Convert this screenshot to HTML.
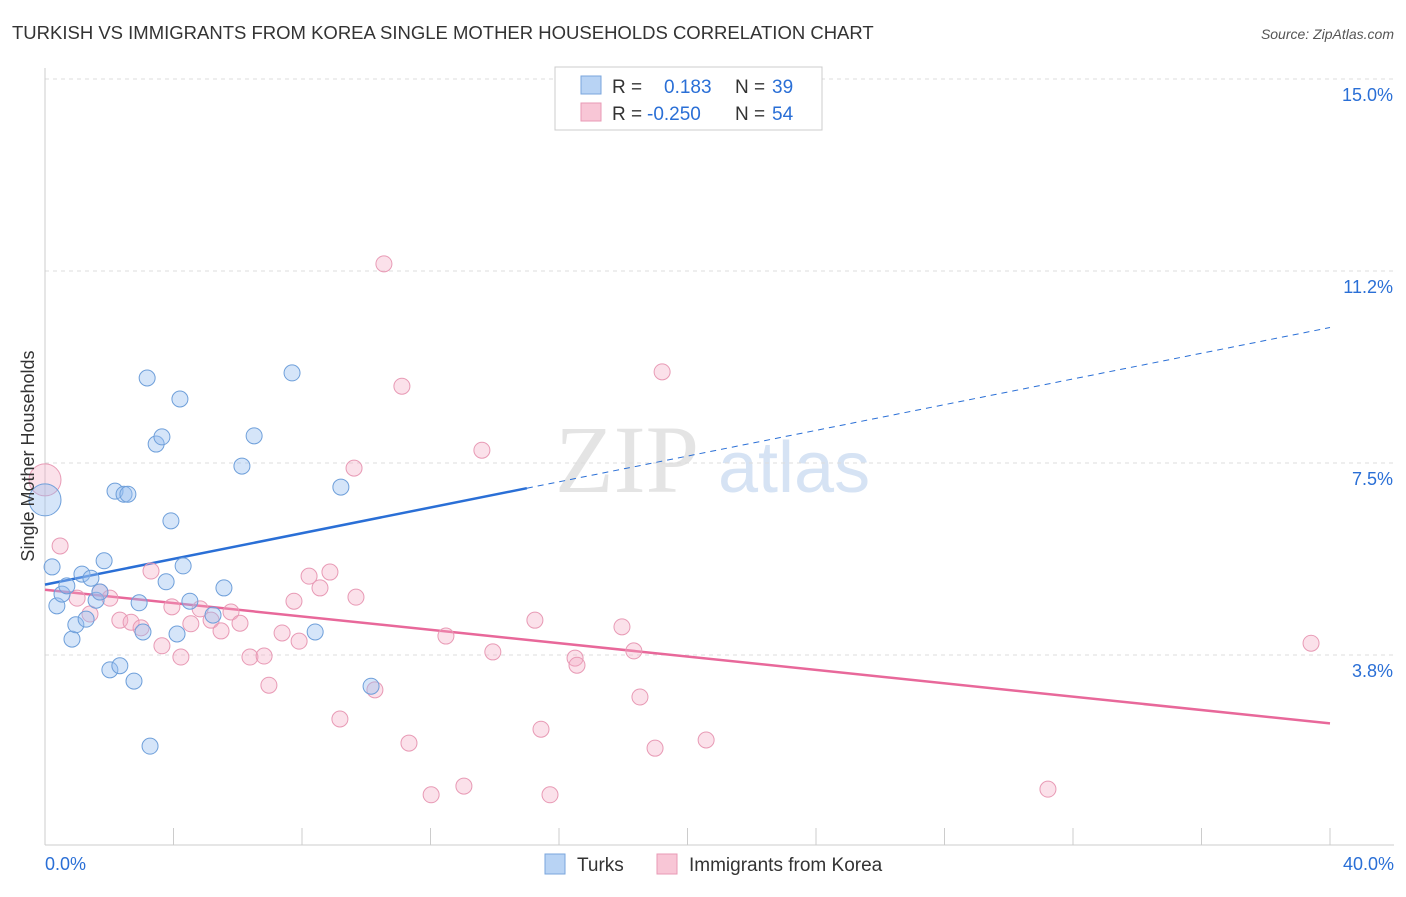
<!DOCTYPE html>
<html><head><meta charset="utf-8"><style>
body{margin:0;background:#fff;font-family:"Liberation Sans",sans-serif;}
</style></head><body>
<svg id="chart" width="1406" height="892" xmlns="http://www.w3.org/2000/svg" font-family="Liberation Sans, sans-serif">
<text x="12" y="39" font-size="18.5" fill="#333">TURKISH VS IMMIGRANTS FROM KOREA SINGLE MOTHER HOUSEHOLDS CORRELATION CHART</text>
<text x="1394" y="39" font-size="14" fill="#555" text-anchor="end" font-style="italic">Source: ZipAtlas.com</text>
<g>
<text x="555" y="492" font-size="96" font-family="Liberation Serif, serif" fill="#e4e4e4">ZIP</text>
<text x="718" y="492" font-size="72" fill="#d6e3f4">atlas</text>
</g>
<g id="grid"></g>
<g id="axes"></g>
<g id="lines"></g>
<g id="points"></g>
<text transform="translate(34,456) rotate(-90)" font-size="18" fill="#333" text-anchor="middle">Single Mother Households</text>
<g>
<rect x="555" y="67" width="267" height="63" fill="#fff" stroke="#ccc"/>
<rect x="581" y="76" width="20" height="18" fill="#b8d3f4" stroke="#7aa6dc"/>
<rect x="581" y="103" width="20" height="18" fill="#f8c6d6" stroke="#e89ab5"/>
<text x="612" y="93" font-size="19" fill="#333">R =</text>
<text x="664" y="93" font-size="19" fill="#2a6fd6">0.183</text>
<text x="735" y="93" font-size="19" fill="#333">N =</text>
<text x="772" y="93" font-size="19" fill="#2a6fd6">39</text>
<text x="612" y="120" font-size="19" fill="#333">R =</text>
<text x="647" y="120" font-size="19" fill="#2a6fd6">-0.250</text>
<text x="735" y="120" font-size="19" fill="#333">N =</text>
<text x="772" y="120" font-size="19" fill="#2a6fd6">54</text>
</g>
<g>
<rect x="545" y="854" width="20" height="20" fill="#b8d3f4" stroke="#7aa6dc"/>
<text x="577" y="871" font-size="19" fill="#333">Turks</text>
<rect x="657" y="854" width="20" height="20" fill="#f8c6d6" stroke="#e89ab5"/>
<text x="689" y="871" font-size="19" fill="#333">Immigrants from Korea</text>
</g>
</svg>
<script>
const yTicks=[3.75,7.5,11.25,15];
const yTickLabels=["3.8%","7.5%","11.2%","15.0%"];
const xTickCount=10;
const turksX=[0,0.22,0.37,0.53,0.68,0.84,0.96,1.15,1.28,1.43,1.59,1.71,1.84,2.02,2.18,2.33,2.46,2.58,2.77,2.93,3.05,3.18,3.27,3.46,3.64,3.77,3.92,4.11,4.20,4.30,4.51,5.23,5.57,6.13,6.51,7.69,8.41,9.21,10.15];
const turksY=[6.78,5.47,4.71,4.94,5.10,4.06,4.34,5.33,4.45,5.25,4.82,4.98,5.59,3.46,6.95,3.54,6.89,6.89,3.24,4.77,4.20,9.16,1.97,7.87,8.01,5.18,6.37,4.16,8.75,5.49,4.80,4.53,5.06,7.44,8.03,9.26,4.20,7.03,3.14];
const koreaX=[0,0.47,1.00,1.40,1.71,2.02,2.33,2.68,2.99,3.30,3.64,3.95,4.23,4.54,4.83,5.17,5.48,5.79,6.07,6.38,6.82,6.97,7.38,7.75,7.91,8.22,8.56,8.87,9.18,9.62,9.68,10.27,10.55,11.11,11.33,12.02,12.48,13.04,13.60,13.94,15.25,15.44,15.72,16.50,16.56,17.96,18.33,18.52,18.99,19.21,20.58,31.22,39.41];
const koreaY=[7.17,5.88,4.86,4.55,4.98,4.86,4.43,4.39,4.28,5.39,3.93,4.69,3.71,4.36,4.65,4.43,4.22,4.59,4.37,3.71,3.73,3.16,4.18,4.80,4.02,5.29,5.06,5.37,2.50,7.40,4.88,3.07,11.39,9.00,2.03,1.02,4.12,1.19,7.75,3.81,4.43,2.30,1.02,3.69,3.55,4.30,3.83,2.93,1.93,9.28,2.09,1.13,3.98];
const NS="http://www.w3.org/2000/svg";
const X=v=>45+v/40*1285, Y=v=>847-v*51.2;
function mk(t,a,p){const e=document.createElementNS(NS,t);for(const k in a)e.setAttribute(k,a[k]);p.appendChild(e);return e;}
const grid=document.getElementById('grid'),axes=document.getElementById('axes'),lines=document.getElementById('lines'),pts=document.getElementById('points');
yTicks.forEach((t,i)=>{
 const l=mk('line',{x1:45,x2:1394,y1:Y(t),y2:Y(t),stroke:'#ddd','stroke-dasharray':'4,4'},grid);
 
 
 const tx=mk('text',{x:1393,y:Y(t)+22,'font-size':18,fill:'#2a6fd6','text-anchor':'end'},axes);
 tx.textContent=yTickLabels[i];
 
 
});
const xa=mk('line',{x1:45,x2:1394,y1:845,y2:845,stroke:'#ccc'},axes);


const ya=mk('line',{x1:45,x2:45,y1:68,y2:845,stroke:'#ccc'},axes);


for(let i=0;i<=xTickCount;i++){const x=X(i*40/xTickCount);
 const t=mk('line',{x1:x,x2:x,y1:828,y2:845,stroke:'#ccc'},axes);
 
 }
[["0.0%",45,'start'],["40.0%",1394,'end']].forEach(a=>{const t=mk('text',{x:a[1],y:870,'font-size':18,fill:'#2a6fd6','text-anchor':a[2]},axes);t.textContent=a[0];
 
 });
function fit(xs,ys){const n=xs.length;let mx=0,my=0;for(let i=0;i<n;i++){mx+=xs[i];my+=ys[i];}mx/=n;my/=n;let sxy=0,sxx=0;for(let i=0;i<n;i++){sxy+=(xs[i]-mx)*(ys[i]-my);sxx+=(xs[i]-mx)**2;}const b=sxy/sxx;return [my-b*mx,b];}
const fb=fit(turksX,turksY), fk=fit(koreaX,koreaY);
const b1=mk('line',{x1:X(0),y1:Y(fb[0]),x2:X(15),y2:Y(fb[0]+fb[1]*15),stroke:'#2a6fd6','stroke-width':2.5},lines);


const b2=mk('line',{x1:X(15),y1:Y(fb[0]+fb[1]*15),x2:X(40),y2:Y(fb[0]+fb[1]*40),stroke:'#2a6fd6','stroke-width':1,'stroke-dasharray':'6,5'},lines);


const k1=mk('line',{x1:X(0),y1:Y(fk[0]),x2:X(40),y2:Y(fk[0]+fk[1]*40),stroke:'#e8689a','stroke-width':2.5},lines);


function dots(xs,ys,fill,stroke,name){xs.forEach((x,i)=>{const c=mk('circle',{cx:X(x),cy:Y(ys[i]),r:i===0?16:8,fill:fill,stroke:stroke,'stroke-width':1},pts);
 
 });}
dots(koreaX,koreaY,'rgba(244,170,196,0.35)','#e89ab5','korea-point');
dots(turksX,turksY,'rgba(150,190,240,0.4)','#6e9fda','turks-point');
</script>
</body></html>
